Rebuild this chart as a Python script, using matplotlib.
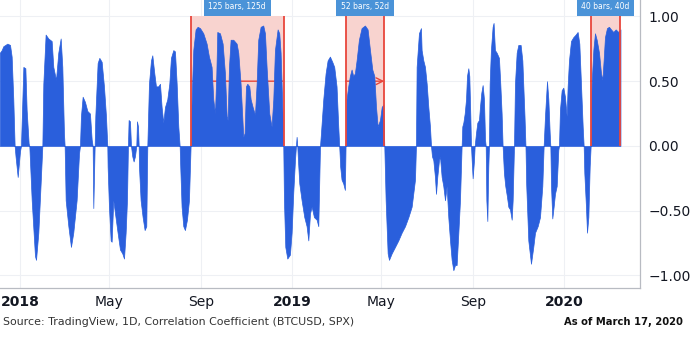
import numpy as np
import matplotlib
matplotlib.use('Agg')
import matplotlib.pyplot as plt
import matplotlib.dates as mdates

# days since 2018-01-01 and correlation coefficient (BTCUSD vs SPX)
days = [
    -27, -24.6, -22.4, -17, -13.4, -11.2, -9, -7.2, -6, -3.1, 0, 1.3, 4.5, 7.2, 8.9, 11.6, 12.5,
    15.7, 20.1, 21.5, 24.6, 27.7, 30, 31.3, 34.4, 38, 42.5, 44.7, 48.3, 51.4, 54.6, 56.8, 59, 59.9,
    61.3, 64.9, 68.4, 71.5, 76, 79.2, 80.5, 81.8, 84.1, 87.2, 90.4, 93.9, 96.2, 97.5, 98.4, 100.2,
    101.1, 104.2, 106.5, 109.6, 112.7, 115.4, 117.2,
    117.6, 119.4, 121.7, 123, 125.2, 127.5, 131, 134.2, 137.3, 139.6, 141.8, 143.6, 144.9, 145.8,
    147.6, 149, 150.7, 152.5, 154.3, 156.1, 157, 158.4, 159.3, 159.7, 161.9, 164.6, 167.3, 169.5,
    170.9, 173.1, 175.8, 177.6, 180.3, 182.5, 185.6, 187.9, 190.1, 192.3, 194.6, 197.7, 200.4,
    202.6, 205.8, 208, 210.3, 212.5, 214.3, 215.1, 216.9, 219.2, 221.4, 224.1, 226.8, 229, 230.4,
    232.6, 235.7, 238.4, 241.6, 246, 250.5, 253.6,
    255, 257.2, 259.4, 261.7, 263.5, 264.8, 268.4, 272, 275.1, 277.4, 278.7, 280.5, 282.7, 286.3,
    290.8, 293, 296.1, 299.7, 301.5, 303.3, 305.1, 307.8, 309.6, 312.3, 315.4, 317.6, 319.8, 323,
    326.5, 328.8, 331, 334.6, 337.7, 340, 342.2, 345.8, 348, 349.8, 352.5, 353.4, 354.3, 356.1,
    358.8, 362.3, 364.6, 366.8, 369.1, 370.4, 371.3, 372.2, 373.1, 374.9, 378, 381.6, 384.7, 387,
    389.3, 391.5, 394.6, 398.2,
    400.4, 402.7, 404, 407.1, 410.2, 412.9, 416, 419.1, 421.8, 424.9, 427.2, 428.5, 429.8, 431.6,
    433.9, 436.1, 437, 438.3, 440.6, 442.8, 445.1, 447.3, 449.5, 451.8, 454.9, 458.5, 463, 466.6,
    469.8, 472.9, 475.6, 477.9, 480.1, 483.2, 485.5, 487.7, 489, 490.8, 493.5, 495.3, 498.9, 503.4,
    507.8, 512.3, 516.8, 521.3, 525.7, 530.2, 531.5, 532.4, 535.5, 538.2,
    539.1, 541.4, 543.6, 545.9, 548.1, 550.3, 551.7, 553, 554.8, 557, 558.4, 560.1, 562.4, 563.7,
    566, 568.2, 570.5, 572.7, 574.9, 577.2, 579.4, 581.7, 583.9, 586.1, 588.4, 590.6, 592.8, 593.7,
    595.1, 596.9, 598.7, 600, 601.8, 603.1, 604.5, 605.4, 606.3, 607.6, 609.4, 610.3, 612.1, 613.9,
    616.1, 617.4, 619.2, 621, 622.8, 624.2, 625.1, 626, 627.3, 628.6, 629.5, 630.4, 632.1, 634.4,
    635.7, 637.5, 639.8, 642.9, 644.7, 646.5, 647.8, 649.6, 651.4, 653.6, 655.5, 657.7, 660, 661.3,
    663.1, 664.4, 666.7, 668.9, 672, 674.3, 675.5, 677.2, 678.5, 679.5,
    682.3, 685.9, 689, 691.3, 694.9, 698, 701.1, 702.9, 704.7, 706, 707.4, 709.2, 711, 711.9, 712.8,
    714.5, 716.3, 718.1, 720.4, 722.6, 723.5, 724.8, 727.1, 729.3, 731.5, 733.8, 735.1, 736.9,
    739.6, 742.7, 745.9, 748.5, 750.8, 753, 755.3, 756.6, 757.5, 759.7, 761.1, 762.9, 764.7, 766,
    767.3, 769.6, 771.8, 774.1, 777.2, 779.9, 781.7, 783.4, 785.2, 787.9, 790.6, 793.3, 796.4,
    799.6, 803.1, 806,
]
corr = [
    0.72, 0.74, 0.77, 0.79, 0.78, 0.69, 0.36, 0.0, -0.08, -0.24, -0.04, 0.0, 0.61, 0.60, 0.28, 0.02, 0.0,
    -0.42, -0.85, -0.88, -0.67, -0.29, 0.0, 0.48, 0.86, 0.83, 0.81, 0.61, 0.51, 0.72, 0.83, 0.61, 0.10, 0.0,
    -0.42, -0.62, -0.78, -0.67, -0.42, -0.06, 0.0, 0.23, 0.38, 0.34, 0.27, 0.25, 0.05, 0.0, -0.48, 0.0,
    0.23, 0.64, 0.68, 0.65, 0.46, 0.23, 0.0,
    -0.16, -0.47, -0.73, -0.74, -0.42, -0.52, -0.67, -0.80, -0.83, -0.87, -0.67, -0.42, 0.0, 0.20,
    0.19, 0.0, -0.08, -0.12, -0.08, 0.0, 0.19, 0.15, 0.0, -0.16, -0.42, -0.55, -0.65, -0.62,
    0.0, 0.48, 0.66, 0.70, 0.56, 0.46, 0.46, 0.48, 0.30, 0.18, 0.30, 0.36, 0.48,
    0.68, 0.74, 0.73, 0.48, 0.15, 0.0, -0.16, -0.47, -0.62, -0.65, -0.57, -0.42, 0.0, 0.36,
    0.74, 0.90, 0.92, 0.91, 0.87, 0.79, 0.69,
    0.66, 0.61, 0.36, 0.25, 0.55, 0.88, 0.87, 0.79, 0.56, 0.23, 0.20, 0.61, 0.82, 0.82,
    0.79, 0.72, 0.48, 0.07, 0.10, 0.46, 0.48, 0.46, 0.36, 0.30, 0.24, 0.48, 0.82, 0.92,
    0.93, 0.87, 0.61, 0.25, 0.15, 0.36, 0.74, 0.90, 0.87, 0.72, 0.23, 0.0, -0.42, -0.78,
    -0.87, -0.84, -0.67, -0.36, -0.11, 0.0, 0.07, 0.0, -0.11, -0.29, -0.42, -0.55, -0.62, -0.73,
    -0.52, -0.47, -0.55, -0.57,
    -0.62, 0.0, 0.10, 0.36, 0.56, 0.66, 0.69, 0.65, 0.61, 0.46, 0.15, 0.0, -0.16, -0.26,
    -0.29, -0.34, 0.0, 0.36, 0.46, 0.54, 0.59, 0.54, 0.56, 0.66, 0.82, 0.91, 0.93, 0.90,
    0.74, 0.59, 0.54, 0.30, 0.15, 0.20, 0.30, 0.32, 0.0, -0.42, -0.83, -0.88, -0.83, -0.78,
    -0.73, -0.67, -0.62, -0.55, -0.47, -0.26, 0.0, 0.61, 0.87, 0.91,
    0.74, 0.66, 0.61, 0.48, 0.30, 0.15, 0.0, -0.08, -0.11, -0.24, -0.37, -0.24, -0.11, -0.08,
    -0.24, -0.31, -0.42, -0.31, -0.55, -0.73, -0.88, -0.96, -0.92, -0.92, -0.67, -0.42, 0.0, 0.15,
    0.18, 0.25, 0.36, 0.54, 0.60, 0.54, 0.23, 0.0, -0.11, -0.25, -0.11, 0.0, 0.10, 0.18,
    0.20, 0.30, 0.41, 0.47, 0.36, 0.05, 0.0, -0.42, -0.58, -0.16, 0.0, 0.48, 0.74, 0.92,
    0.95, 0.74, 0.72, 0.68, 0.48, 0.25, 0.0, -0.21, -0.31, -0.39, -0.47, -0.49, -0.57, -0.42,
    0.0, 0.48, 0.72, 0.78, 0.78, 0.66, 0.48, 0.23, 0.0, -0.30,
    -0.73, -0.91, -0.78, -0.67, -0.62, -0.55, -0.31, 0.0, 0.23, 0.36, 0.50, 0.36, 0.10, 0.0, -0.31,
    -0.56, -0.47, -0.37, -0.31, -0.03, 0.0, 0.28, 0.43, 0.45, 0.38, 0.23, 0.46, 0.66,
    0.81, 0.84, 0.86, 0.88, 0.79, 0.48, 0.15, 0.0, -0.21, -0.47, -0.67, -0.55, -0.16, 0.0,
    0.48, 0.74, 0.87, 0.82, 0.72, 0.56, 0.51, 0.66, 0.84, 0.91, 0.92, 0.90, 0.88,
    0.90, 0.88, 0.90,
]

range_starts = ['2018-08-18', '2019-03-14', '2020-02-06']
range_ends = ['2018-12-21', '2019-05-05', '2020-03-17']
range_labels = ['125 bars, 125d', '52 bars, 52d', '40 bars, 40d']

y_ticks = [1.0, 0.5, 0.0, -0.5, -1.0]
x_ticks = ['2018-01-01', '2018-05-01', '2018-09-01', '2019-01-01',
           '2019-05-01', '2019-09-01', '2020-01-01']
x_tick_labels = ['2018', 'May', 'Sep', '2019', 'May', 'Sep', '2020']
source_text = 'Source: TradingView, 1D, Correlation Coefficient (BTCUSD, SPX)'
asof_text = 'As of March 17, 2020'

BLUE = '#2a5fdc'
PINK = '#f8d3cf'
RED = '#e8463c'
LABEL_BLUE = '#4a93d8'
GRID = '#eef0f4'

fig = plt.figure(figsize=(6.9, 3.42), dpi=100)
ax = fig.add_axes([0, 0.158, 0.9275, 0.842])

base = mdates.date2num(np.datetime64('2018-01-01'))
x = base + np.array(days, dtype=float)
y = np.array(corr)

ax.fill_between(x, y, 0, color=BLUE, lw=0.5, zorder=3)

for s, e, lab in zip(range_starts, range_ends, range_labels):
    xs = mdates.date2num(np.datetime64(s))
    xe = mdates.date2num(np.datetime64(e))
    ax.fill_between([xs, xe], 0, 1.0, color=PINK, lw=0, zorder=1)
    ax.annotate('', xy=(xe, 0.5), xytext=(xs, 0.5),
                arrowprops=dict(arrowstyle='->', color=RED, lw=1.0,
                                mutation_scale=12, shrinkA=0, shrinkB=0),
                zorder=2)
    ax.vlines([xs, xe], 0, 1.0, color=RED, lw=1.3, zorder=4)
    ax.text((xs + xe) / 2, 1.075, lab, ha='center', va='center', color='white',
            fontsize=5.5, zorder=6, clip_on=False,
            bbox=dict(boxstyle='square,pad=0.6', fc=LABEL_BLUE, ec='none'))

ax.set_xlim(base - 26.85, base + 832.2)
ax.set_ylim(-1.097, 1.127)

ax.set_xticks([mdates.date2num(np.datetime64(d)) for d in x_ticks])
ax.set_xticklabels(x_tick_labels)
for lbl in ax.get_xticklabels():
    if lbl.get_text().isdigit():
        lbl.set_fontweight('bold')
ax.set_yticks(y_ticks)
ax.set_yticklabels([f'{v:.2f}'.replace('-', '\u2212') for v in y_ticks])
ax.yaxis.tick_right()
ax.tick_params(axis='both', length=0, labelsize=10, colors='#131722')
ax.tick_params(axis='x', pad=5)
ax.tick_params(axis='y', pad=6)
ax.grid(True, color=GRID, lw=0.8, zorder=0)
ax.set_axisbelow(True)

for side in ['top', 'left']:
    ax.spines[side].set_visible(False)
for side in ['bottom', 'right']:
    ax.spines[side].set_color('#b8bbc2')
    ax.spines[side].set_linewidth(0.9)

fig.text(0.004, 0.058, source_text, ha='left', va='center', fontsize=7.9, color='#333333')
fig.text(0.99, 0.058, asof_text, ha='right', va='center', fontsize=7.2,
         fontweight='bold', color='#111111')

fig.savefig('out.png', dpi=100)
